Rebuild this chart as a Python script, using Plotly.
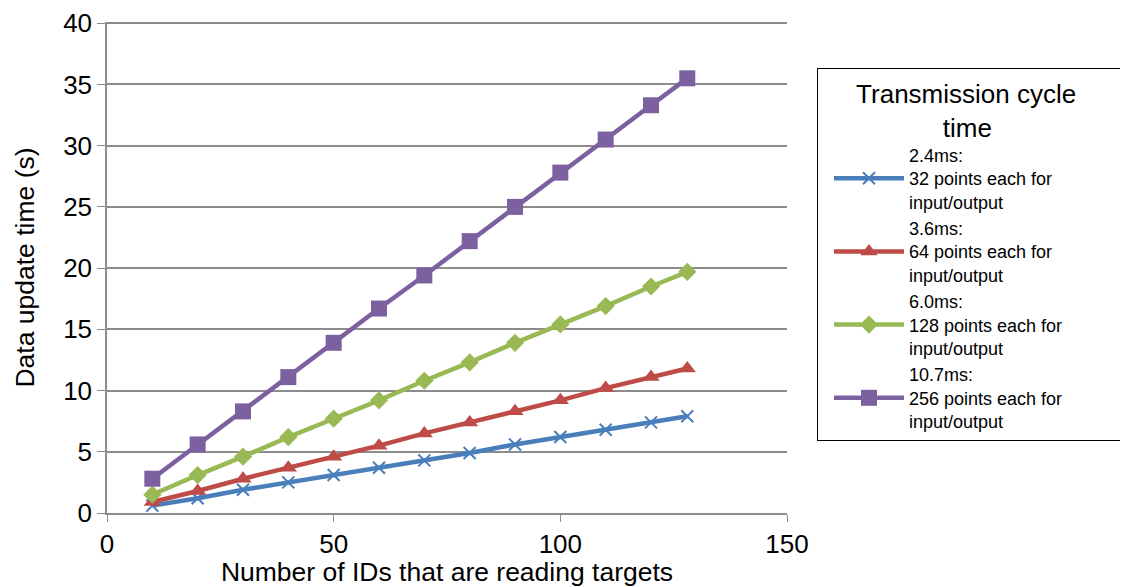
import plotly.graph_objects as go

x_ids = [10, 20, 30, 40, 50, 60, 70, 80, 90, 100, 110, 120, 128]
s_24 = [0.6, 1.2, 1.9, 2.5, 3.1, 3.7, 4.3, 4.9, 5.6, 6.2, 6.8, 7.4, 7.9]
s_36 = [0.9, 1.8, 2.8, 3.7, 4.6, 5.5, 6.5, 7.4, 8.3, 9.2, 10.2, 11.1, 11.8]
s_60 = [1.5, 3.1, 4.6, 6.2, 7.7, 9.2, 10.8, 12.3, 13.9, 15.4, 16.9, 18.5, 19.7]
s_107 = [2.8, 5.6, 8.3, 11.1, 13.9, 16.7, 19.4, 22.2, 25.0, 27.8, 30.5, 33.3, 35.5]

names = [
    "2.4ms:<br>32 points each for<br>input/output",
    "3.6ms:<br>64 points each for<br>input/output",
    "6.0ms:<br>128 points each for<br>input/output",
    "10.7ms:<br>256 points each for<br>input/output",
]
y_ticks = [0, 5, 10, 15, 20, 25, 30, 35, 40]
x_ticks = [0, 50, 100, 150]
NB = "\u00a0"
legend_title = NB * 5 + "Transmission cycle" + NB * 6 + "<br>" + NB * 17 + "time"
colors = ["#4A7EBB", "#BE4B48", "#98B954", "#7D60A0"]
symbols = ["x-thin", "triangle-up", "diamond", "square"]
sizes = [12, 15, 14, 16]
series = [s_24, s_36, s_60, s_107]

fig = go.Figure()
for nm, col, sym, sz, ys in zip(names, colors, symbols, sizes, series):
    marker = dict(symbol=sym, size=sz, color=col)
    if sym == "x-thin":
        marker["line"] = dict(color=col, width=2)
    fig.add_trace(go.Scatter(
        x=x_ids, y=ys, mode="lines+markers", name=nm,
        line=dict(color=col, width=4.5), marker=marker,
    ))

font = "Liberation Sans, Arial, sans-serif"
fig.update_layout(
    width=1120, height=579,
    margin=dict(l=99, r=341, t=14, b=74, autoexpand=False),
    paper_bgcolor="white", plot_bgcolor="white",
    font=dict(family=font, color="black"),
    showlegend=True,
    legend=dict(
        x=(817 - 107) / 680, y=(513 - 68) / 491, xanchor="left", yanchor="top",
        bordercolor="black", borderwidth=1, bgcolor="white",
        font=dict(size=18, family=font),
        title=dict(text=legend_title, side="top",
                   font=dict(size=26, family=font)),
        itemwidth=70, indentation=11,
    ),
    xaxis=dict(
        range=[0, 150], tickvals=x_ticks,
        showgrid=False, zeroline=False, automargin=False,
        showline=True, linecolor="#8C8C8C", linewidth=1.5,
        ticks="outside", ticklen=7, tickcolor="#8C8C8C",
        tickfont=dict(size=26, family=font), ticklabeloverflow="allow",
        title=dict(text="Number of IDs that are reading targets",
                   font=dict(size=26.5, family=font), standoff=10),
    ),
    yaxis=dict(
        range=[0, 40.1], tickvals=y_ticks,
        showgrid=True, gridcolor="#8C8C8C", gridwidth=1.5, zeroline=False,
        automargin=False, ticklabeloverflow="allow",
        showline=True, linecolor="#8C8C8C", linewidth=1.5,
        ticks="outside", ticklen=8, tickcolor="#8C8C8C",
        tickfont=dict(size=26, family=font),
        title=dict(text="Data update time (s)",
                   font=dict(size=26.5, family=font), standoff=21),
    ),
)

fig.write_html("out.html")
